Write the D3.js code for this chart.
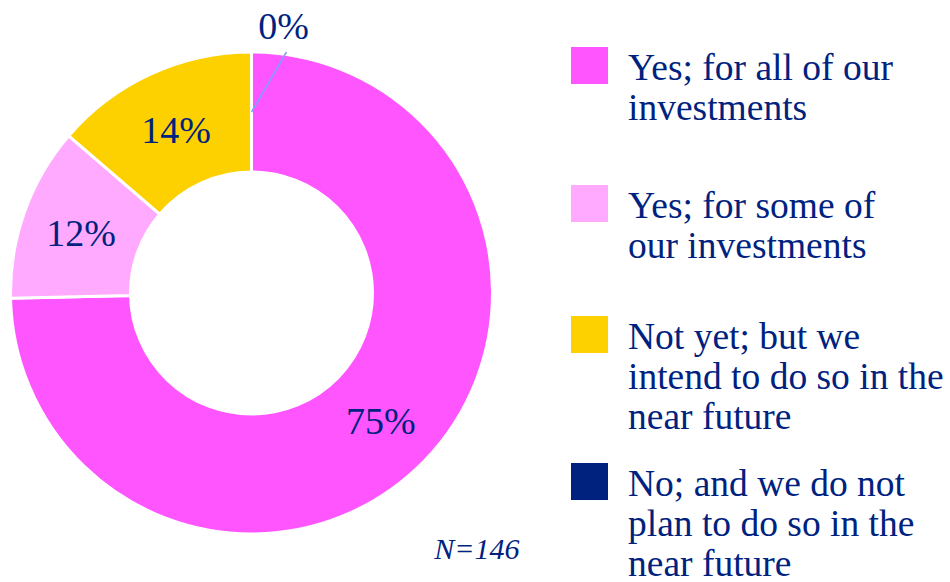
<!DOCTYPE html>
<html>
<head>
<meta charset="utf-8">
<script src="https://cdn.jsdelivr.net/npm/d3@7"></script>
<style>
  html, body { margin: 0; padding: 0; background: #ffffff; }
  svg { display: block; }
</style>
</head>
<body>
<svg id="chart" width="950" height="582"></svg>
<script>
// ---- data ----
const categories = [
  "Yes; for all of our investments",
  "Yes; for some of our investments",
  "Not yet; but we intend to do so in the near future",
  "No; and we do not plan to do so in the near future"
];
const legendLines = [
  ["Yes; for all of our", "investments"],
  ["Yes; for some of", "our investments"],
  ["Not yet; but we", "intend to do so in the", "near future"],
  ["No; and we do not", "plan to do so in the", "near future"]
];
const counts = [109, 17, 20, 0];
const percentLabels = ["75%", "12%", "14%", "0%"];
const colors = ["#FF55FF", "#FFAAFF", "#FDD100", "#00227F"];
const sampleNote = "N=146";

// ---- layout ----
const FONT = "'Liberation Serif', Tinos, 'Times New Roman', Times, 'DejaVu Serif', serif";
const textColor = "#00227F";
const svg = d3.select("#chart");
const cx = 251.5, cy = 293;
const outerR = 241, innerR = 121;
const labelR = 181;

const pie = d3.pie().sort(null).value(d => d)(counts);
const arc = d3.arc().innerRadius(innerR).outerRadius(outerR);
const labelArc = d3.arc().innerRadius(labelR).outerRadius(labelR);

const g = svg.append("g").attr("transform", `translate(${cx},${cy})`);

g.selectAll("path.slice")
  .data(pie)
  .join("path")
  .attr("class", "slice")
  .attr("d", arc)
  .attr("fill", (d, i) => colors[i])
  .attr("stroke", "#ffffff")
  .attr("stroke-width", 3)
  .attr("stroke-linejoin", "miter");

// labels inside slices (non-zero)
g.selectAll("text.pct")
  .data(pie.filter(d => d.value > 0))
  .join("text")
  .attr("class", "pct")
  .attr("x", d => labelArc.centroid(d)[0])
  .attr("y", d => labelArc.centroid(d)[1] + 14)
  .attr("text-anchor", "middle")
  .attr("font-family", FONT)
  .attr("font-size", 38)
  .attr("fill", textColor)
  .text(d => percentLabels[d.index]);

// zero slice label with leader line
pie.filter(d => d.value === 0).forEach(d => {
  const p = labelArc.centroid(d);
  const end = [p[0] + 35, p[1] - 60];
  g.append("line")
    .attr("x1", p[0]).attr("y1", p[1])
    .attr("x2", end[0]).attr("y2", end[1])
    .attr("stroke", "#7F9FFF")
    .attr("stroke-width", 1.5);
  g.append("text")
    .attr("x", end[0] - 3)
    .attr("y", end[1] - 13)
    .attr("text-anchor", "middle")
    .attr("font-family", FONT)
    .attr("font-size", 38)
    .attr("fill", textColor)
    .text(percentLabels[d.index]);
});

// ---- legend ----
const legendTops = [47, 185, 316, 463];
const legend = svg.append("g");
categories.forEach((c, i) => {
  const item = legend.append("g").attr("transform", `translate(571,${legendTops[i]})`);
  item.append("rect")
    .attr("width", 37).attr("height", 37)
    .attr("fill", colors[i]);
  const t = item.append("text")
    .attr("x", 57)
    .attr("y", 33)
    .attr("font-family", FONT)
    .attr("font-size", 37.5)
    .attr("fill", textColor);
  legendLines[i].forEach((ln, j) => {
    t.append("tspan").attr("x", 57).attr("dy", j === 0 ? 0 : 40).text(ln);
  });
});

// sample size note
svg.append("text")
  .attr("x", 477)
  .attr("y", 559)
  .attr("text-anchor", "middle")
  .attr("font-family", FONT)
  .attr("font-size", 30)
  .attr("font-style", "italic")
  .attr("fill", textColor)
  .text(sampleNote);
</script>
</body>
</html>
